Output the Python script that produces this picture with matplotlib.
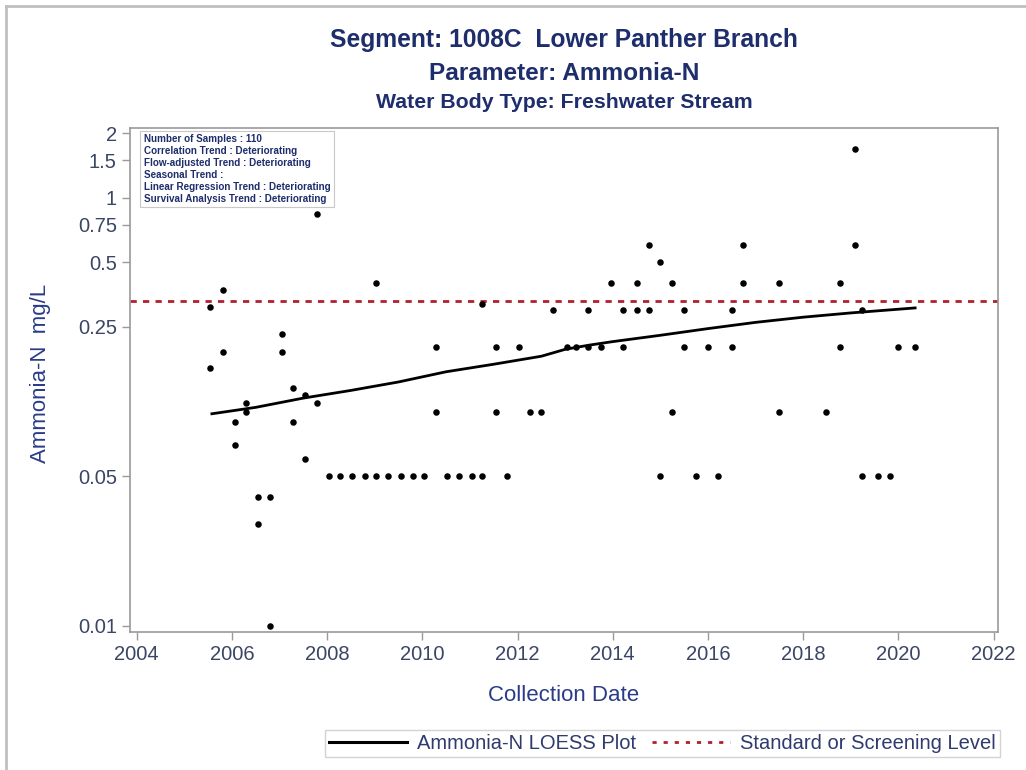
import matplotlib
matplotlib.use("Agg")
import matplotlib.pyplot as plt
from matplotlib.lines import Line2D
import numpy as np

plt.rcParams.update({
    "font.family": ["Liberation Sans", "DejaVu Sans"],
    "lines.scale_dashes": False,
})

# sample dates (decimal years) and Ammonia-N results (mg/L)
SAMPLE_YEARS = [
    2005.53, 2005.81, 2005.53, 2005.81, 2006.06, 2006.06, 2006.29, 2006.29,
    2006.54, 2006.54, 2006.79, 2006.79, 2007.05, 2007.05, 2007.28, 2007.28,
    2007.53, 2007.53, 2007.78, 2007.78,
    2008.03, 2008.27, 2008.52, 2008.80, 2009.02, 2009.28, 2009.55, 2009.80, 2010.04,
    2009.02,
    2010.28, 2010.28, 2010.51, 2010.77, 2011.04, 2011.26, 2011.26, 2011.54, 2011.54,
    2011.77, 2012.03, 2012.26, 2012.49, 2012.75, 2013.03, 2013.22, 2013.47, 2013.47,
    2013.75, 2013.97, 2014.22, 2014.22, 2014.50, 2014.50, 2014.75, 2014.75, 2014.99,
    2014.99, 2015.24, 2015.24, 2015.50, 2015.50, 2015.74, 2015.99, 2016.22,
    2016.50, 2016.50, 2016.74, 2016.74, 2017.49, 2017.49, 2018.47, 2018.77, 2018.77,
    2019.09, 2019.09, 2019.23, 2019.23, 2019.56, 2019.82, 2020.00, 2020.35,
]
SAMPLE_VALUES = [
    0.31, 0.37, 0.16, 0.19, 0.09, 0.07, 0.11, 0.10,
    0.04, 0.03, 0.04, 0.01, 0.23, 0.19, 0.13, 0.09,
    0.12, 0.06, 0.11, 0.84,
    0.05, 0.05, 0.05, 0.05, 0.05, 0.05, 0.05, 0.05, 0.05,
    0.4,
    0.2, 0.1, 0.05, 0.05, 0.05, 0.05, 0.32, 0.2, 0.1,
    0.05, 0.2, 0.1, 0.1, 0.3, 0.2, 0.2, 0.2, 0.3,
    0.2, 0.4, 0.3, 0.2, 0.4, 0.3, 0.6, 0.3, 0.5,
    0.05, 0.4, 0.1, 0.3, 0.2, 0.05, 0.2, 0.05,
    0.3, 0.2, 0.6, 0.4, 0.4, 0.1, 0.1, 0.4, 0.2,
    1.7, 0.6, 0.3, 0.05, 0.05, 0.05, 0.2, 0.2,
]

LOESS_YEARS = [2005.58, 2006.5, 2007.5, 2008.5, 2009.5, 2010.5, 2011.5, 2012.5,
               2013.0, 2013.5, 2014.0, 2015.0, 2016.0, 2017.0, 2018.0, 2019.0, 2020.35]
LOESS_VALUES = [0.098, 0.105, 0.116, 0.126, 0.138, 0.154, 0.167, 0.182,
                0.196, 0.205, 0.213, 0.228, 0.245, 0.262, 0.277, 0.290, 0.306]

SCREENING_LEVEL = 0.33

TITLE_LINES = [
    "Segment: 1008C  Lower Panther Branch",
    "Parameter: Ammonia-N",
    "Water Body Type: Freshwater Stream",
]
STATS_LINES = [
    "Number of Samples : 110",
    "Correlation Trend : Deteriorating",
    "Flow-adjusted Trend : Deteriorating",
    "Seasonal Trend :",
    "Linear Regression Trend : Deteriorating",
    "Survival Analysis Trend : Deteriorating",
]
Y_TICKS = [0.01, 0.05, 0.25, 0.5, 0.75, 1, 1.5, 2]
Y_TICK_LABELS = ["0.01", "0.05", "0.25", "0.5", "0.75", "1", "1.5", "2"]
X_TICKS = list(range(2004, 2023, 2))

NAVY = "#1E2D6B"
LABEL_BLUE = "#2A3C88"
TICK_COLOR = "#3B4566"
SPINE_COLOR = "#9A9A9A"
RED = "#B0202E"

fig = plt.figure(figsize=(10.26, 7.70), dpi=100)
ax = fig.add_axes([0.1267, 0.1792, 0.846, 0.6546])

ax.scatter(SAMPLE_YEARS, SAMPLE_VALUES, s=22, color="black", zorder=3, linewidths=0)
ax.plot(LOESS_YEARS, LOESS_VALUES, color="black", linewidth=2.0, zorder=4)
ax.axhline(SCREENING_LEVEL, color=RED, linewidth=2.0, dashes=(4.5, 4.5), zorder=2)

ax.set_yscale("log")
ax.set_ylim(0.00937, 2.12)
ax.set_xlim(2003.86, 2022.09)
ax.set_yticks(Y_TICKS)
ax.set_yticklabels(Y_TICK_LABELS)
ax.yaxis.set_minor_locator(matplotlib.ticker.NullLocator())
ax.set_xticks(X_TICKS)
ax.set_xticklabels([str(t) for t in X_TICKS])
ax.tick_params(axis="both", which="major", colors=SPINE_COLOR, labelcolor=TICK_COLOR,
               labelsize=14.5, length=6, width=1)
for spine in ax.spines.values():
    spine.set_color(SPINE_COLOR)
    spine.set_linewidth(1.2)

ax.set_xlabel("Collection Date", fontsize=16, color=LABEL_BLUE)
ax.set_ylabel("Ammonia-N  mg/L", fontsize=16, color=LABEL_BLUE)
ax.xaxis.set_label_coords(0.5, -0.105)
ax.yaxis.set_label_coords(-0.091, 0.514)

# title block
cx = 0.1267 + 0.846 / 2
fig.text(cx, 1 - 40 / 770, TITLE_LINES[0], ha="center", va="center",
         fontsize=17.7, fontweight="bold", color=NAVY)
fig.text(cx, 1 - 73 / 770, TITLE_LINES[1], ha="center", va="center",
         fontsize=17.6, fontweight="bold", color=NAVY)
fig.text(cx, 1 - 103 / 770, TITLE_LINES[2], ha="center", va="center",
         fontsize=15.3, fontweight="bold", color=NAVY)

# statistics inset
ax.text(0.016, 0.988, "\n".join(STATS_LINES), transform=ax.transAxes,
        ha="left", va="top", fontsize=7.1, fontweight="bold", color=NAVY,
        linespacing=1.24,
        bbox=dict(boxstyle="square,pad=0.35", facecolor="white",
                  edgecolor="#C8C8C8", linewidth=0.8))

# legend at the bottom
handles = [
    Line2D([], [], color="black", linewidth=2.2),
    Line2D([], [], color=RED, linewidth=2.0, dashes=(3, 5)),
]
leg = fig.legend(handles, ["Ammonia-N LOESS Plot", "Standard or Screening Level"],
                 loc="lower right", bbox_to_anchor=(0.9747, 0.0169), ncol=2,
                 fontsize=14.5, frameon=True, fancybox=False, handlelength=3.9,
                 columnspacing=0.75, borderpad=0.2, handletextpad=0.5,
                 borderaxespad=0, labelcolor="#2F3A6E")
leg.get_frame().set_edgecolor("#C8C8C8")
leg.get_frame().set_linewidth(1.0)

# outer frame (left and top edges)
fig.add_artist(Line2D([6 / 1026, 6 / 1026], [0, 1 - 6 / 770], transform=fig.transFigure,
                      color="#C0C0C0", linewidth=2))
fig.add_artist(Line2D([6 / 1026, 1], [1 - 6 / 770, 1 - 6 / 770], transform=fig.transFigure,
                      color="#C0C0C0", linewidth=2))

fig.savefig("out.png", dpi=100, facecolor="white")
